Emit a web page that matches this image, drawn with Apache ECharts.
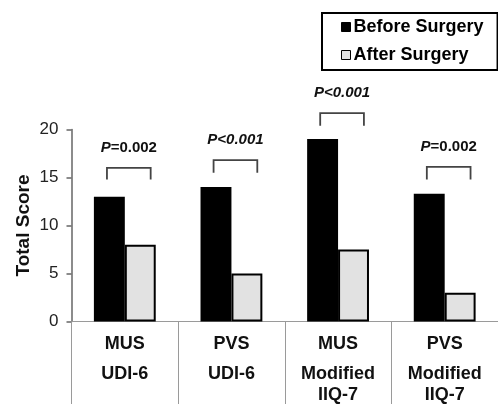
<!DOCTYPE html>
<html>
<head>
<meta charset="utf-8">
<script src="https://cdn.jsdelivr.net/npm/echarts@6/dist/echarts.min.js"></script>
<style>html,body{margin:0;padding:0;background:#fff;}#c{width:498px;height:404px;}</style>
</head>
<body>
<div id="c"></div>
<script>
const categories = ['MUS\nUDI-6', 'PVS\nUDI-6', 'MUS\nModified\nIIQ-7', 'PVS\nModified\nIIQ-7'];
const beforeSurgery = [13, 14, 19, 13.3];
const afterSurgery = [8, 5, 7.5, 3];
const bracketTop = [16.0, 16.8, 21.7, 16.1];
const bracketBottom = [14.8, 15.5, 20.4, 14.8];
const pLabels = [['P', '=0.002'], ['P', '<0.001'], ['P', '<0.001'], ['P', '=0.002']];
const pItalicAll = [false, true, true, false];
const yTicks = [0, 5, 10, 15, 20];

const chart = echarts.init(document.getElementById('c'));
const FONT = 'Liberation Sans, Arial, sans-serif';

const bracketData = categories.map((c, i) => [i, bracketTop[i], bracketBottom[i]]);

chart.setOption({
  animation: false,
  backgroundColor: '#fff',
  grid: { left: 71.5, right: -0.5, top: 129.5, bottom: 81.5, containLabel: false },
  legend: {
    data: ['Before Surgery', 'After Surgery'],
    orient: 'vertical',
    left: 322,
    top: 13,
    padding: [4, 14, 5, 19],
    itemGap: 8,
    itemWidth: 9,
    itemHeight: 9,
    borderColor: '#000',
    borderWidth: 2,
    borderRadius: 0,
    icon: 'rect',
    itemStyle: { borderWidth: 1, borderColor: '#000' },
    textStyle: { fontFamily: FONT, fontWeight: 'bold', fontSize: 18, color: '#000', lineHeight: 20, padding: [0, 0, 0, -2] }
  },
  xAxis: {
    type: 'category',
    data: categories,
    axisLine: { show: true, lineStyle: { color: '#9a9a9a', width: 1 } },
    axisTick: { show: true, length: 85, interval: 0, lineStyle: { color: '#9a9a9a', width: 1 } },
    axisLabel: {
      interval: 0,
      margin: 3,
      formatter: function (v) {
        const parts = v.split('\n');
        return '{a|' + parts[0] + '}\n' + parts.slice(1).map(p => '{b|' + p + '}').join('\n');
      },
      rich: {
        a: { fontFamily: FONT, fontWeight: 'bold', fontSize: 18, color: '#111', lineHeight: 39 },
        b: { fontFamily: FONT, fontWeight: 'bold', fontSize: 18, color: '#111', lineHeight: 21 }
      }
    }
  },
  yAxis: {
    type: 'value',
    min: 0,
    max: 20,
    interval: 5,
    name: 'Total Score',
    nameLocation: 'middle',
    nameRotate: 90,
    nameGap: 38,
    nameMoveOverlap: false,
    nameTextStyle: { fontFamily: FONT, fontWeight: 'bold', fontSize: 19, color: '#111' },
    axisLine: { show: true, lineStyle: { color: '#666', width: 1.5 } },
    axisTick: { show: true, length: 5, lineStyle: { color: '#666', width: 1.5 } },
    splitLine: { show: false },
    axisLabel: {
      margin: 13,
      fontFamily: FONT, fontSize: 17, color: '#222',
      formatter: function (v) { return yTicks.indexOf(v) >= 0 ? String(v) : ''; }
    }
  },
  series: [
    {
      name: 'Before Surgery',
      type: 'bar',
      data: beforeSurgery,
      barGap: '0%',
      barCategoryGap: '42%',
      itemStyle: { color: '#000', borderColor: '#000', borderWidth: 2 }
    },
    {
      name: 'After Surgery',
      type: 'bar',
      data: afterSurgery,
      itemStyle: { color: '#e2e2e2', borderColor: '#000', borderWidth: 2 }
    },
    {
      type: 'custom',
      clip: false,
      silent: true,
      data: bracketData,
      encode: { x: 0, y: 1 },
      renderItem: function (params, api) {
        const i = api.value(0);
        const top = api.coord([i, api.value(1)]);
        const bot = api.coord([i, api.value(2)]);
        const bw = api.size([1, 0])[0];
        const cx = top[0] + 4;
        const half = bw * 0.205;
        const lab = pLabels[i];
        const it = pItalicAll[i];
        return {
          type: 'group',
          children: [
            {
              type: 'polyline',
              shape: { points: [[cx - half, bot[1]], [cx - half, top[1]], [cx + half, top[1]], [cx + half, bot[1]]] },
              style: { stroke: '#444', lineWidth: 1.8, fill: null }
            },
            {
              type: 'text',
              x: cx,
              y: top[1] - 20,
              style: {
                text: '{i|' + lab[0] + '}{' + (it ? 'i' : 'n') + '|' + lab[1] + '}',
                align: 'center',
                verticalAlign: 'middle',
                rich: {
                  i: { fontFamily: FONT, fontWeight: 'bold', fontStyle: 'italic', fontSize: 15, fill: '#111' },
                  n: { fontFamily: FONT, fontWeight: 'bold', fontSize: 15, fill: '#111' }
                }
              }
            }
          ]
        };
      }
    }
  ]
});
</script>
</body>
</html>
